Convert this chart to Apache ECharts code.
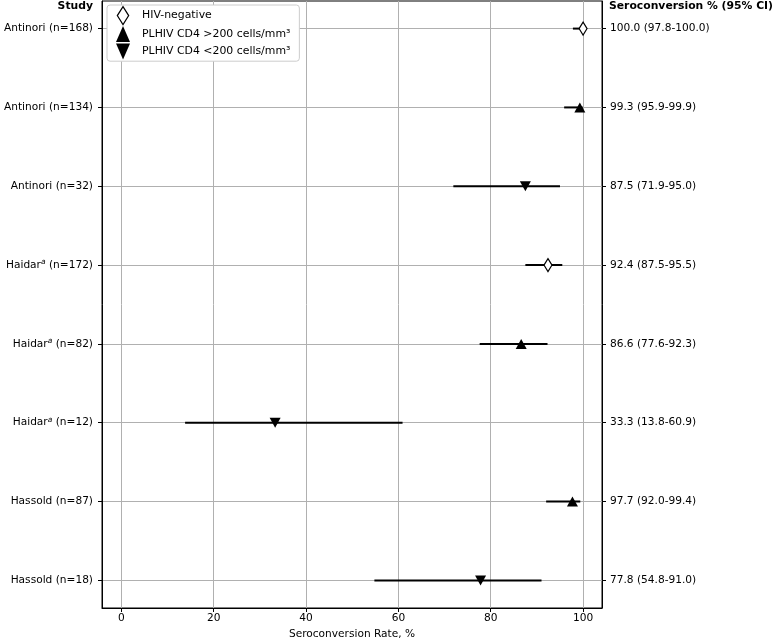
<!DOCTYPE html>
<html>
<head>
<meta charset="utf-8">
<script src="https://cdn.jsdelivr.net/npm/echarts@6/dist/echarts.min.js"></script>
<style>html,body{margin:0;padding:0;background:#fff;}#c{width:777px;height:641px;}</style>
</head>
<body>
<div id="c"></div>
<script>
var studies = ['Antinori (n=168)', 'Antinori (n=134)', 'Antinori (n=32)', 'Haidar{sup|a} (n=172)', 'Haidar{sup|a} (n=82)', 'Haidar{sup|a} (n=12)', 'Hassold (n=87)', 'Hassold (n=18)'];
var estimates = [100.0, 99.3, 87.5, 92.4, 86.6, 33.3, 97.7, 77.8];
var lower = [97.8, 95.9, 71.9, 87.5, 77.6, 13.8, 92.0, 54.8];
var upper = [100.0, 99.9, 95.0, 95.5, 92.3, 60.9, 99.4, 91.0];
var groupOf = [0, 1, 2, 0, 1, 2, 1, 2];
var groupNames = ['HIV-negative', 'PLHIV CD4 >200 cells/mm\u00b3', 'PLHIV CD4 <200 cells/mm\u00b3'];
var xTicks = [0, 20, 40, 60, 80, 100];
var rows = [0, 1, 2, 3, 4, 5, 6, 7];

var ciLabels = estimates.map(function (e, i) {
  return e.toFixed(1) + ' (' + lower[i].toFixed(1) + '-' + upper[i].toFixed(1) + ')';
});

var FONT = 'DejaVu Sans';
var FS = 10.6;
var UP = 'path://M5,0 L10,9 L0,9 Z';
var DOWN = 'path://M0,0 L10,0 L5,9 Z';
var LEG_DIAMOND = 'path://M6,0 L12,9.5 L6,19 L0,9.5 Z';
var LEG_UP = 'path://M7,0 L14,16 L0,16 Z';
var LEG_DOWN = 'path://M0,0 L14,0 L7,16 Z';

function groupData(g) {
  var out = [];
  for (var i = 0; i < estimates.length; i++) if (groupOf[i] === g) out.push([estimates[i], i]);
  return out;
}
var errData = estimates.map(function (e, i) { return [lower[i], upper[i], i]; });

var chart = echarts.init(document.getElementById('c'), null, {renderer: 'canvas'});
var yBase = {
  type: 'value', min: -0.35, max: 7.35, inverse: true,
  axisLine: {show: true, onZero: false, lineStyle: {color: '#000', width: 1}},
  axisTick: {show: true, length: 4, customValues: rows, lineStyle: {color: '#000'}},
};
chart.setOption({
  animation: false,
  textStyle: {fontFamily: FONT},
  grid: {left: 102, top: 1, width: 500, height: 607, show: true, borderColor: '#000', borderWidth: 1,
    backgroundColor: 'transparent', containLabel: false, outerBoundsMode: 'none'},
  legend: {
    orient: 'vertical', left: 107, top: 5,
    data: [
      {name: groupNames[0], icon: LEG_DIAMOND, itemStyle: {color: '#fff', borderColor: '#000', borderWidth: 1.2}},
      {name: groupNames[1], icon: LEG_UP, itemStyle: {color: '#000', borderWidth: 0}},
      {name: groupNames[2], icon: LEG_DOWN, itemStyle: {color: '#000', borderWidth: 0}}
    ],
    backgroundColor: '#fff', borderColor: '#ccc', borderWidth: 1, borderRadius: 3,
    padding: [1, 9, 1, 9], itemGap: 0, itemWidth: 14, itemHeight: 18,
    textStyle: {fontFamily: FONT, fontSize: 10.9, color: '#000', padding: [0, 0, 0, 7], lineHeight: 17.5}
  },
  graphic: [
    {type: 'text', right: 777 - 93, top: 1, style: {text: 'Study', font: 'bold 10.8px "DejaVu Sans"', fill: '#000', textAlign: 'right'}},
    {type: 'text', left: 609, top: 1, style: {text: 'Seroconversion % (95% CI)', font: 'bold 10.8px "DejaVu Sans"', fill: '#000'}}
  ],
  xAxis: {
    type: 'value', min: -4.2, max: 104.1,
    name: 'Seroconversion Rate, %', nameLocation: 'middle', nameGap: 18,
    nameTextStyle: {fontFamily: FONT, fontSize: FS, color: '#000'},
    axisLine: {show: true, onZero: false, lineStyle: {color: '#000'}},
    axisTick: {show: true, length: 4, customValues: xTicks, lineStyle: {color: '#000'}},
    axisLabel: {customValues: xTicks, fontFamily: FONT, fontSize: FS, color: '#000', margin: 5},
    splitLine: {show: true, lineStyle: {color: '#b0b0b0', width: 1}}
  },
  yAxis: [
    Object.assign({}, yBase, {
      position: 'left',
      axisLabel: {customValues: rows, fontFamily: FONT, fontSize: FS, color: '#000', margin: 9,
        formatter: function (v) { return studies[Math.round(v)]; },
        rich: {sup: {fontSize: 7.5, fontStyle: 'italic', fontFamily: FONT, color: '#000', padding: [0, 0, 6, 0]}}
      },
      splitLine: {show: true, lineStyle: {color: '#b0b0b0', width: 1}}
    }),
    Object.assign({}, yBase, {
      position: 'right',
      axisLabel: {customValues: rows, fontFamily: FONT, fontSize: FS, color: '#000', margin: 8,
        formatter: function (v) { return ciLabels[Math.round(v)]; }
      },
      splitLine: {show: false}
    })
  ],
  series: [
    {
      type: 'custom', name: 'ci', yAxisIndex: 0, silent: true, z: 3,
      renderItem: function (params, api) {
        var p1 = api.coord([api.value(0), api.value(2)]);
        var p2 = api.coord([api.value(1), api.value(2)]);
        return {type: 'line', shape: {x1: p1[0], y1: p1[1], x2: p2[0], y2: p2[1]}, style: {stroke: '#000', lineWidth: 2}};
      },
      encode: {x: [0, 1], y: 2},
      data: errData
    },
    {
      type: 'scatter', name: groupNames[0], yAxisIndex: 0, z: 5,
      symbol: 'diamond', symbolSize: [8, 13],
      itemStyle: {color: '#fff', borderColor: '#000', borderWidth: 1.2, opacity: 1},
      data: groupData(0)
    },
    {
      type: 'scatter', name: groupNames[1], yAxisIndex: 0, z: 5,
      symbol: UP, symbolSize: [11, 10],
      itemStyle: {color: '#000', opacity: 1},
      data: groupData(1)
    },
    {
      type: 'scatter', name: groupNames[2], yAxisIndex: 0, z: 5,
      symbol: DOWN, symbolSize: [11, 10],
      itemStyle: {color: '#000', opacity: 1},
      data: groupData(2)
    }
  ]
});
</script>
</body>
</html>
